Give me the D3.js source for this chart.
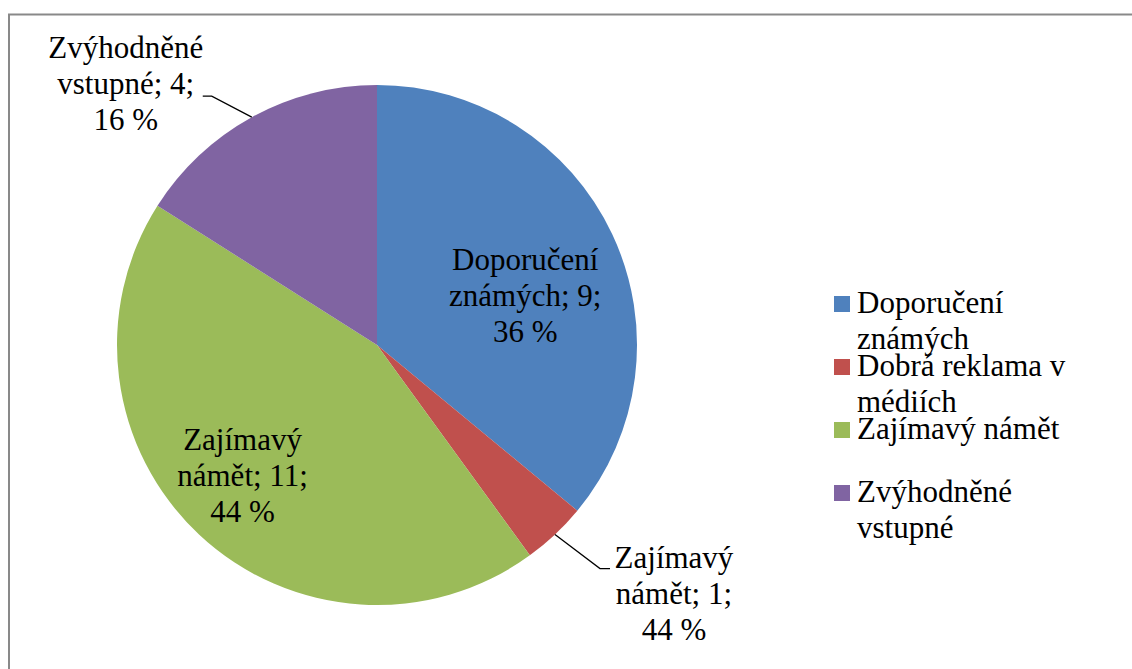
<!DOCTYPE html>
<html>
<head>
<meta charset="utf-8">
<script src="https://cdn.jsdelivr.net/npm/d3@7"></script>
<style>
    svg text { font-family: 'Times New Roman', 'Liberation Serif', 'DejaVu Serif'; font-size: 31px; fill: #000; }
</style>
</head>
<body style="margin:0; background:#fff">
<script>

// data
var categories = ["Doporučení známých", "Dobrá reklama v médiích", "Zajímavý námět", "Zvýhodněné vstupné"];
var values = [9, 1, 11, 4];
var colors = ["#4F81BD", "#C0504D", "#9BBB59", "#8064A2"];
// data label texts exactly as they appear on the chart
var dataLabelLines = [
    ["Doporučení", "známých; 9;", "36 %"],
    ["Zajímavý", "námět; 1;", "44 %"],
    ["Zajímavý", "námět; 11;", "44 %"],
    ["Zvýhodněné", "vstupné; 4;", "16 %"]
];
var legendLines = [
    ["Doporučení", "známých"],
    ["Dobrá reklama v", "médiích"],
    ["Zajímavý námět"],
    ["Zvýhodněné", "vstupné"]
];

var width = 1132, height = 669;
var cx = 377, cy = 345, R = 260;
var lineH = 36;

// one text element per line
function addLines(parent, lines, x, y0, anchor) {
    return parent.selectAll(null)
        .data(lines)
        .enter()
        .append("text")
        .attr("x", x)
        .attr("y", function(s, k){ return y0 + k * lineH; })
        .attr("text-anchor", anchor)
        .style("font-family", "'Times New Roman', 'Liberation Serif', 'DejaVu Serif'")
        .style("font-size", "31px")
        .text(function(s){ return s; });
}

var svg = d3.select("body").append("svg")
    .attr("width", width)
    .attr("height", height);

// chart area border
svg.append("rect")
    .attr("x", 9).attr("y", 14.5)
    .attr("width", width + 20).attr("height", height)
    .attr("fill", "none")
    .attr("stroke", "#898989")
    .attr("stroke-width", 2);

var pie = d3.pie().sort(null).value(function(d){ return d; });
var arcs = pie(values);

var arc = d3.arc().innerRadius(0).outerRadius(R);
var edgeArc = d3.arc().innerRadius(R).outerRadius(R);
var insideArc = d3.arc().innerRadius(R * 0.66).outerRadius(R * 0.66);

var g = svg.append("g").attr("transform", "translate(" + cx + "," + cy + ")");

g.selectAll("path.slice")
    .data(arcs)
    .enter()
    .append("path")
    .attr("class", "slice")
    .attr("d", arc)
    .attr("fill", function(d, i){ return colors[i]; });

// label placement: inside labels nudged from centroid, outside ones get a leader line
var placement = [
    { inside: true, dx: -7, dy: 23 },
    { inside: false, ex: 45, ey: 34, tail: 10, side: 1, textDx: 64 },
    { inside: true, dx: -17, dy: 5 },
    { inside: false, ex: -40, ey: -21, tail: 9, side: -1, textDx: 77 }
];

arcs.forEach(function(d, i){
    var p = placement[i];
    var lines = dataLabelLines[i];
    var lg = g.append("g");
    if (p.inside) {
        var c = insideArc.centroid(d);
        addLines(lg, lines, c[0] + p.dx, c[1] + p.dy - 25, "middle");
    } else {
        var a = edgeArc.centroid(d);
        var elbow = [a[0] + p.ex, a[1] + p.ey];
        var end = [elbow[0] + p.side * p.tail, elbow[1]];
        lg.append("path")
            .attr("d", d3.line()([a, elbow, end]))
            .attr("fill", "none")
            .attr("stroke", "#000")
            .attr("stroke-width", 1.3);
        var firstBase = p.side > 0 ? end[1] - 1 : end[1] - 2 - lineH;
        addLines(lg, lines, end[0] + p.side * p.textDx, firstBase, "middle");
    }
});

// legend
var legend = svg.append("g").attr("transform", "translate(834,313)");
var entry = legend.selectAll("g.entry")
    .data(categories)
    .enter()
    .append("g")
    .attr("class", "entry")
    .attr("transform", function(d, i){ return "translate(0," + (i * 63) + ")"; });

entry.append("rect")
    .attr("x", 0).attr("y", -17)
    .attr("width", 16).attr("height", 16)
    .attr("fill", function(d, i){ return colors[i]; });

entry.each(function(d, i){
    addLines(d3.select(this), legendLines[i], 23, 0, "start");
});

</script>
</body>
</html>
